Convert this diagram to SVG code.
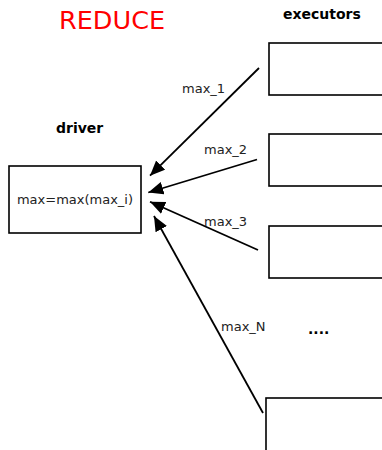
<svg xmlns="http://www.w3.org/2000/svg" width="382" height="450" viewBox="0 0 382 450">
<style>
.box{fill:#fff;stroke:#000;stroke-width:1.6}
.lbl{font-family:"DejaVu Sans",sans-serif;font-size:13px;fill:#222}
.hd{font-family:"DejaVu Sans",sans-serif;font-size:14px;font-weight:bold;fill:#000}
.conn{stroke:#000;stroke-width:1.8;fill:none;marker-end:url(#ah)}
</style>
<defs>
<marker id="ah" markerUnits="userSpaceOnUse" markerWidth="16" markerHeight="14" refX="15" refY="6.5" orient="auto">
<path d="M0,0 L15,6.5 L0,13 z" fill="#000"/>
</marker>
</defs>
<text x="59" y="29" font-family="DejaVu Sans, sans-serif" font-size="25.5" fill="#ff0000">REDUCE</text>
<text class="hd" x="283" y="19">executors</text>
<text class="hd" x="56" y="133">driver</text>
<g id="driver">
<rect class="box" x="9" y="166" width="132" height="67"/>
<text class="lbl" x="75" y="204" text-anchor="middle">max=max(max_i)</text>
</g>
<g id="exec1"><rect class="box" x="269" y="43" width="130" height="52"/></g>
<g id="exec2"><rect class="box" x="269" y="134" width="130" height="52"/></g>
<g id="exec3"><rect class="box" x="269" y="226" width="130" height="52"/></g>
<g id="execN"><rect class="box" x="266" y="398" width="130" height="70"/></g>
<g id="connectors">
<line class="conn" x1="259" y1="68" x2="150" y2="175.7"/>
<line class="conn" x1="257" y1="159.5" x2="148.3" y2="192.5"/>
<line class="conn" x1="258" y1="250" x2="150" y2="201.7"/>
<line class="conn" x1="263" y1="413" x2="154" y2="216"/>
<text class="lbl" x="182" y="93">max_1</text>
<text class="lbl" x="204" y="154">max_2</text>
<text class="lbl" x="204" y="226">max_3</text>
<text class="lbl" x="221" y="331">max_N</text>
</g>
<text class="hd" x="308" y="334">....</text>
</svg>
